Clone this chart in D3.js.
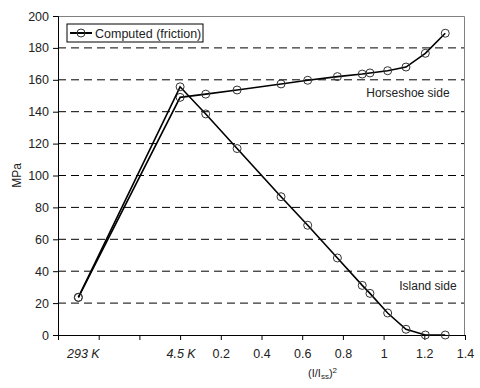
<!DOCTYPE html>
<html>
<head>
<meta charset="utf-8">
<script src="https://cdn.jsdelivr.net/npm/d3@7"></script>
<style>
  body { margin: 0; background: #fff; }
  text { font-family: "Liberation Sans", Arial, sans-serif; fill: #222; }
</style>
</head>
<body>
<div id="chart"></div>
<script>
// data
const xValues = [-0.5, 0, 0.126, 0.28, 0.496, 0.627, 0.773, 0.895, 0.933, 1.02, 1.11, 1.205, 1.303]
const horseshoe = [23.6, 149, 151, 153.6, 157.4, 159.7, 162, 163.6, 164.3, 165.7, 168, 176.6, 189.2]
const island = [23.6, 155.6, 138.6, 116.9, 86.7, 68.8, 48.3, 31.1, 26.1, 13.8, 3.6, 0, 0]
const yTicks = [0, 20, 40, 60, 80, 100, 120, 140, 160, 180, 200]
const xTicks = [-0.6, -0.4, -0.2, 0, 0.2, 0.4, 0.6, 0.8, 1, 1.2, 1.4]
const tempLabels = [{ x: -0.5, label: "293 K" }, { x: 0, label: "4.5 K" }]
const legendLabel = "Computed (friction)"

let dimensions = {
  width: 480,
  height: 388,
  margin: { top: 16, right: 15, bottom: 53, left: 58 },
}
dimensions.boundedWidth = dimensions.width - dimensions.margin.left - dimensions.margin.right
dimensions.boundedHeight = dimensions.height - dimensions.margin.top - dimensions.margin.bottom

const wrapper = d3.select("#chart")
  .append("svg")
    .attr("width", dimensions.width)
    .attr("height", dimensions.height)

const bounds = wrapper.append("g")
  .attr("transform", `translate(${dimensions.margin.left},${dimensions.margin.top})`)

const xScale = d3.scaleLinear()
  .domain([-0.6, 1.4])
  .range([0, dimensions.boundedWidth])

const yScale = d3.scaleLinear()
  .domain([0, 200])
  .range([dimensions.boundedHeight, 0])

// grid lines (dashed)
bounds.append("g")
  .selectAll("line")
  .data(yTicks.filter(d => d > 0 && d < 200))
  .join("line")
    .attr("x1", 0)
    .attr("x2", dimensions.boundedWidth)
    .attr("y1", d => yScale(d))
    .attr("y2", d => yScale(d))
    .attr("stroke", "#000")
    .attr("stroke-width", 1)
    .attr("stroke-dasharray", "8 5")

// plot border (grey top / right)
bounds.append("path")
  .attr("d", `M0,0.5H${dimensions.boundedWidth - 0.5}V${dimensions.boundedHeight}`)
  .attr("fill", "none")
  .attr("stroke", "#808080")
  .attr("stroke-width", 1)

// axes
const yAxis = bounds.append("g")
  .call(d3.axisLeft(yScale).tickValues(yTicks).tickSize(5).tickPadding(4).tickFormat(d3.format("d")))
yAxis.select(".domain").attr("stroke", "#000")
yAxis.selectAll("text").style("font-size", "12.5px")

const xAxis = bounds.append("g")
  .attr("transform", `translate(0,${dimensions.boundedHeight})`)
  .call(d3.axisBottom(xScale).tickValues(xTicks).tickSize(5).tickSizeOuter(0).tickPadding(9)
    .tickFormat(d => d > 0.01 ? d3.format("~g")(d) : ""))
xAxis.selectAll("text").style("font-size", "12.5px")

bounds.append("g")
  .attr("transform", `translate(0,${dimensions.boundedHeight})`)
  .selectAll("text")
  .data(tempLabels)
  .join("text")
    .attr("x", (d, i) => xScale(d.x) + (i === 0 ? 5 : 1))
    .attr("y", 23)
    .attr("text-anchor", "middle")
    .style("font-size", "12.5px")
    .style("font-style", "italic")
    .text(d => d.label)

// axis titles
bounds.append("text")
  .attr("transform", `translate(${-37},${dimensions.boundedHeight / 2}) rotate(-90)`)
  .attr("text-anchor", "middle")
  .style("font-size", "12px")
  .text("MPa")

const xTitle = bounds.append("text")
  .attr("x", xScale(0.7))
  .attr("y", dimensions.boundedHeight + 42)
  .attr("text-anchor", "middle")
  .style("font-size", "11px")
xTitle.append("tspan").text("(I/I")
xTitle.append("tspan").attr("baseline-shift", "-25%").style("font-size", "8px").text("ss")
xTitle.append("tspan").text(")")
xTitle.append("tspan").attr("baseline-shift", "45%").style("font-size", "8px").text("2")

// lines
const lineGenerator = values => d3.line()
  .x((d, i) => xScale(xValues[i]))
  .y(d => yScale(d))(values)

const seriesList = [horseshoe, island]
seriesList.forEach(series => {
  bounds.append("path")
    .attr("d", lineGenerator(series))
    .attr("fill", "none")
    .attr("stroke", "#000")
    .attr("stroke-width", 1.6)
  bounds.append("g")
    .selectAll("circle")
    .data(series)
    .join("circle")
      .attr("cx", (d, i) => xScale(xValues[i]))
      .attr("cy", d => yScale(d))
      .attr("r", 4)
      .attr("fill", "none")
      .attr("stroke", "#333")
      .attr("stroke-width", 1)
})

// annotations
bounds.append("text")
  .attr("x", xScale(1.3) + 5)
  .attr("y", yScale(150) + 1)
  .attr("text-anchor", "end")
  .style("font-size", "12px")
  .text("Horseshoe side")

bounds.append("text")
  .attr("x", xScale(1.3) + 12)
  .attr("y", yScale(28))
  .attr("text-anchor", "end")
  .style("font-size", "12px")
  .text("Island side")

// legend
const legend = bounds.append("g")
  .attr("transform", "translate(9,8)")
legend.append("rect")
  .attr("width", 136)
  .attr("height", 18)
  .attr("fill", "#fff")
  .attr("stroke", "#000")
  .attr("stroke-width", 1)
legend.append("line")
  .attr("x1", 3).attr("x2", 25)
  .attr("y1", 9).attr("y2", 9)
  .attr("stroke", "#000")
  .attr("stroke-width", 2)
legend.append("circle")
  .attr("cx", 14).attr("cy", 9).attr("r", 4)
  .attr("fill", "none")
  .attr("stroke", "#333")
legend.append("text")
  .attr("x", 28)
  .attr("y", 13.5)
  .style("font-size", "12.5px")
  .text(legendLabel)
</script>
</body>
</html>
